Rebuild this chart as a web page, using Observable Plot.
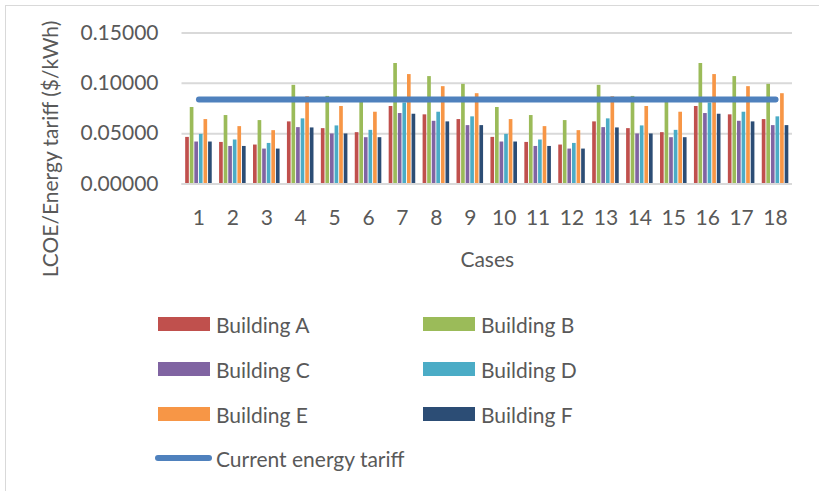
<!DOCTYPE html>
<html>
<head>
<meta charset="utf-8">
<script src="https://cdn.jsdelivr.net/npm/d3@7"></script>
<script src="https://cdn.jsdelivr.net/npm/@observablehq/plot@0.6"></script>
<style>
  html, body { margin: 0; padding: 0; background: #fff; }
  #wrap { position: relative; width: 819px; height: 491px; overflow: hidden; font-family: Lato, sans-serif; color: #595959; }
  #frame { position: absolute; left: 5px; top: 5px; width: 840px; height: 520px; border: 1px solid #d9d9d9; box-sizing: border-box; }
  #chart { position: absolute; left: 0; top: 0; }
  #ylabel { position: absolute; left: 49px; top: 149px; transform: translate(-50%, -50%) rotate(-90deg); white-space: nowrap; font-size: 21px; }
  #legend { position: absolute; left: 0; top: 285px; width: 819px; height: 206px; font-size: 21px; }
  .item { position: absolute; display: flex; align-items: center; height: 24px; }
  .sw { width: 52px; height: 14px; margin-right: 6px; }
  .ln { width: 57px; height: 6px; border-radius: 3px; margin-right: 4px; }
</style>
</head>
<body>
<div id="wrap">
  <div id="frame"></div>
  <div id="chart"></div>
  <div id="ylabel">LCOE/Energy tariff ($/kWh)</div>
  <div id="legend"></div>
</div>
<script>
const cases = [1, 2, 3, 4, 5, 6, 7, 8, 9, 10, 11, 12, 13, 14, 15, 16, 17, 18];
const buildings = ["Building A", "Building B", "Building C", "Building D", "Building E", "Building F"];
const buildingA = [0.0463, 0.0413, 0.0387, 0.0617, 0.0550, 0.0510, 0.0770, 0.0687, 0.0640, 0.0463, 0.0413, 0.0387, 0.0617, 0.0550, 0.0510, 0.0770, 0.0687, 0.0640];
const buildingB = [0.0760, 0.0680, 0.0630, 0.0980, 0.0870, 0.0810, 0.1197, 0.1067, 0.0990, 0.0760, 0.0680, 0.0630, 0.0980, 0.0870, 0.0810, 0.1197, 0.1067, 0.0990];
const buildingC = [0.0417, 0.0373, 0.0347, 0.0560, 0.0497, 0.0460, 0.0700, 0.0623, 0.0580, 0.0417, 0.0373, 0.0347, 0.0560, 0.0497, 0.0460, 0.0700, 0.0623, 0.0580];
const buildingD = [0.0493, 0.0437, 0.0403, 0.0647, 0.0577, 0.0533, 0.0805, 0.0713, 0.0667, 0.0493, 0.0437, 0.0403, 0.0647, 0.0577, 0.0533, 0.0805, 0.0713, 0.0667];
const buildingE = [0.0640, 0.0570, 0.0530, 0.0867, 0.0770, 0.0713, 0.1087, 0.0967, 0.0897, 0.0640, 0.0570, 0.0530, 0.0867, 0.0770, 0.0713, 0.1087, 0.0967, 0.0897];
const buildingF = [0.0417, 0.0373, 0.0347, 0.0557, 0.0497, 0.0460, 0.0693, 0.0617, 0.0580, 0.0417, 0.0373, 0.0347, 0.0557, 0.0497, 0.0460, 0.0693, 0.0617, 0.0580];
const currentTariff = 0.084;
const tariffLabel = "Current energy tariff";
const yTicks = [0, 0.05, 0.10, 0.15];
const colors = ["#C0504D", "#9BBB59", "#8064A2", "#4BACC6", "#F79646", "#2C4D75"];
const tariffColor = "#4F81BD";

const series = [buildingA, buildingB, buildingC, buildingD, buildingE, buildingF];
const data = [];
series.forEach((vals, bi) => {
  vals.forEach((v, ci) => data.push({ c: cases[ci], bi, building: buildings[bi], value: v }));
});
const step = 0.135, half = 0.054;
const tariffRows = [cases[0], cases[cases.length - 1]].map(c => ({ c, value: currentTariff }));

const chart = Plot.plot({
  width: 819,
  height: 285,
  marginLeft: 181.5,
  marginRight: 27,
  marginTop: 32.5,
  marginBottom: 101.5,
  style: { fontFamily: "Lato, sans-serif", fontSize: "21px", color: "#595959", background: "transparent" },
  x: { domain: [0.5, 18.5] },
  y: { domain: [0, 0.15] },
  color: { domain: buildings, range: colors },
  marks: [
    Plot.gridY(yTicks, { stroke: "#d9d9d9", strokeOpacity: 1, strokeWidth: 2 }),
    Plot.rectY(data, {
      x1: d => d.c + (d.bi - 2.5) * step - half,
      x2: d => d.c + (d.bi - 2.5) * step + half,
      y1: 0, y2: "value", fill: "building"
    }),
    Plot.gridY([0], { stroke: "#d9d9d9", strokeOpacity: 1, strokeWidth: 2 }),
    Plot.lineY(tariffRows, { x: "c", y: "value", stroke: tariffColor, strokeWidth: 6, strokeLinecap: "round" }),
    Plot.axisY({ ticks: yTicks, tickSize: 0, tickPadding: 23.5, tickFormat: d3.format(".5f"), label: null }),
    Plot.axisX({ ticks: cases, tickSize: 0, tickPadding: 26.5, tickFormat: d => String(d), label: "Cases", labelAnchor: "center", labelOffset: 83, labelArrow: "none" })
  ]
});
document.getElementById("chart").appendChild(chart);

// legend
const legend = document.getElementById("legend");
const rowsY = [39, 84, 129, 174];
buildings.forEach((b, i) => {
  const el = document.createElement("div");
  el.className = "item";
  el.style.left = (i % 2 === 0 ? 158 : 423) + "px";
  el.style.top = (rowsY[Math.floor(i / 2)] - 12) + "px";
  el.innerHTML = `<div class="sw" style="background:${colors[i]}"></div><span>${b}</span>`;
  legend.appendChild(el);
});
const li = document.createElement("div");
li.className = "item";
li.style.left = "155px";
li.style.top = (rowsY[3] - 13) + "px";
li.innerHTML = `<div class="ln" style="background:${tariffColor}"></div><span>${tariffLabel}</span>`;
legend.appendChild(li);
</script>
</body>
</html>
